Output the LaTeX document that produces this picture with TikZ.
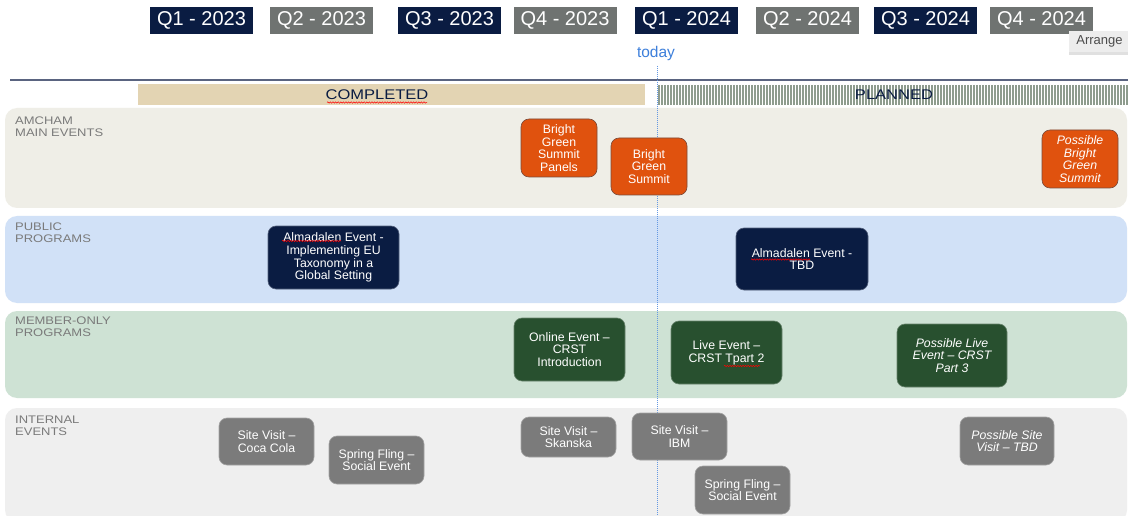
\documentclass[tikz,border=0pt]{standalone}
\usepackage{fontspec}
\setmainfont{Liberation Sans}
\newfontfamily\widesans[FakeStretch=1.18]{Liberation Sans}
\usetikzlibrary{decorations.pathmorphing}
\definecolor{navy}{RGB}{10,28,66}
\definecolor{qgray}{RGB}{111,115,113}
\definecolor{evorange}{RGB}{224,82,14}
\definecolor{evorangeb}{RGB}{122,74,58}
\definecolor{evgreen}{RGB}{40,80,47}
\definecolor{evgray}{RGB}{123,123,123}
\definecolor{laneA}{RGB}{239,238,231}
\definecolor{laneB}{RGB}{209,225,247}
\definecolor{laneC}{RGB}{206,226,212}
\definecolor{laneD}{RGB}{239,239,239}
\definecolor{donebar}{RGB}{227,212,179}
\definecolor{stripe}{RGB}{142,156,142}
\definecolor{todayblue}{RGB}{61,127,219}
\definecolor{lanetext}{RGB}{122,122,122}
\definecolor{rulecol}{RGB}{90,100,128}
\tikzset{
  qbox/.style={text=white, inner sep=0pt, minimum width=103pt, minimum height=27pt, font=\fontsize{20}{22}\selectfont},
  qdark/.style={qbox, fill=navy},
  qlight/.style={qbox, fill=qgray},
  ev/.style={rounded corners=8pt, align=center, text=white, inner sep=0pt, font=\fontsize{12.3}{12.7}\selectfont},
  evo/.style={ev, fill=evorange, draw=evorangeb, line width=0.6pt},
  evn/.style={ev, fill=navy, draw=navy!70, line width=0.6pt},
  evg/.style={ev, fill=evgreen, draw=evgreen!70, line width=0.6pt},
  evy/.style={ev, fill=evgray, draw=evgray!70, line width=0.6pt},
  lanelabel/.style={anchor=north west, align=left, text=lanetext, inner sep=0pt, font=\widesans\fontsize{11}{11.5}\selectfont},
  barlabel/.style={text=navy, inner sep=0pt, font=\widesans\fontsize{14}{15}\selectfont},
  squig/.style={red, line width=0.5pt, decorate, decoration={snake, amplitude=0.7pt, segment length=2.6pt}}
}
\begin{document}
\begin{tikzpicture}[x=1pt,y=-1pt]
\useasboundingbox (0,0) rectangle (1128,516);
\fill[white] (0,0) rectangle (1128,516);

% quarter headers
\node[qdark]  (q1a) at (201.5,20.5) {Q1 - 2023};
\node[qlight] (q2a) at (321.5,20.5) {Q2 - 2023};
\node[qdark]  (q3a) at (449.5,20.5) {Q3 - 2023};
\node[qlight] (q4a) at (565,20.5) {Q4 - 2023};
\node[qdark]  (q1b) at (686.5,20.5) {Q1 - 2024};
\node[qlight] (q2b) at (807.5,20.5) {Q2 - 2024};
\node[qdark]  (q3b) at (925.5,20.5) {Q3 - 2024};
\node[qlight] (q4b) at (1041.5,20.5) {Q4 - 2024};

% arrange tooltip
\fill[black!12] (1069,33) rectangle (1130,55);
\node[fill=black!7, text=black!70, inner sep=0pt, minimum width=61pt, minimum height=21pt, font=\fontsize{13}{14}\selectfont] (arr) at (1099.5,41.5) {Arrange};

% today
\node[text=todayblue, font=\fontsize{15.5}{16}\selectfont, inner sep=0pt] (today) at (656,53) {today};

% header rule
\draw[rulecol, line width=1.4pt] (10,80) -- (1128,80);

% completed / planned bars
\fill[donebar] (138,84) rectangle (645,105);
\node[barlabel] (done) at (377,94.5) {COMPLETED};
\draw[squig] (327,102.5) -- (427,102.5);
\foreach \x in {659,662,...,1127} \draw[stripe, line width=1.1pt] (\x,85) -- (\x,105);
\node[barlabel] (plan) at (894,94.5) {PLANNED};

% lanes
\fill[laneA, rounded corners=12pt] (5,108) rectangle (1127,208);
\fill[laneB, rounded corners=12pt] (5,216) rectangle (1127,303);
\fill[laneC, rounded corners=12pt] (5,311) rectangle (1127,398);
\fill[laneD, rounded corners=12pt] (5,408) rectangle (1127,522);

\node[lanelabel] (la) at (15,117) {AMCHAM\\MAIN EVENTS};
\node[lanelabel] (lb) at (15,223) {PUBLIC\\PROGRAMS};
\node[lanelabel] (lc) at (15,317) {MEMBER-ONLY\\PROGRAMS};
\node[lanelabel] (ld) at (15,416) {INTERNAL\\EVENTS};

% today line
\coordinate (ttop) at (657,66);
\coordinate (tbot) at (657,516);
\draw[todayblue!80, line width=0.5pt, dash pattern=on 1pt off 1pt] (ttop) -- (tbot);

% AMCHAM main events
\node[evo, minimum width=76pt, minimum height=58pt] (bgsp) at (559,148) {Bright\\Green\\Summit\\Panels};
\node[evo, minimum width=76pt, minimum height=57pt] (bgs) at (649,166.5) {Bright\\Green\\Summit};
\node[evo, minimum width=76pt, minimum height=58pt, font=\fontsize{12.3}{12.7}\selectfont\itshape] (pbgs) at (1080,159) {Possible\\Bright\\Green\\Summit};

% public programs
\node[evn, minimum width=131pt, minimum height=63pt] (alm1) at (333.5,257.5) {Almadalen Event -\\Implementing EU\\Taxonomy in a\\Global Setting};
\draw[squig] (282,241) -- (341,241);
\node[evn, minimum width=132pt, minimum height=62pt] (alm2) at (802,259) {Almadalen Event -\\TBD};

% member-only programs
\node[evg, minimum width=111pt, minimum height=63pt] (onl) at (569.5,349.5) {Online Event –\\CRST\\Introduction};
\node[evg, minimum width=111pt, minimum height=63pt] (live) at (726.5,352.5) {Live Event –\\CRST Tpart 2};
\node[evg, minimum width=110pt, minimum height=63pt, font=\fontsize{12.3}{12.7}\selectfont\itshape] (plive) at (952,355.5) {Possible Live\\Event – CRST\\Part 3};

% internal events
\node[evy, minimum width=95pt, minimum height=47pt] (sv1) at (266.5,441.5) {Site Visit –\\Coca Cola};
\node[evy, minimum width=95pt, minimum height=48pt] (sf1) at (376.5,460) {Spring Fling –\\Social Event};
\node[evy, minimum width=95pt, minimum height=40pt] (sv2) at (568.5,437) {Site Visit –\\Skanska};
\node[evy, minimum width=95pt, minimum height=47pt] (sv3) at (679.5,436.5) {Site Visit –\\IBM};
\node[evy, minimum width=95pt, minimum height=48pt] (sf2) at (742.5,490) {Spring Fling –\\Social Event};
\node[evy, minimum width=94pt, minimum height=48pt, font=\fontsize{12.3}{12.7}\selectfont\itshape] (psv) at (1007,441) {Possible Site\\Visit – TBD};

% spell-check squiggles
\draw[squig] (751,259.5) -- (810,259.5);
\draw[squig] (724,366) -- (760,366);
\end{tikzpicture}
\end{document}
